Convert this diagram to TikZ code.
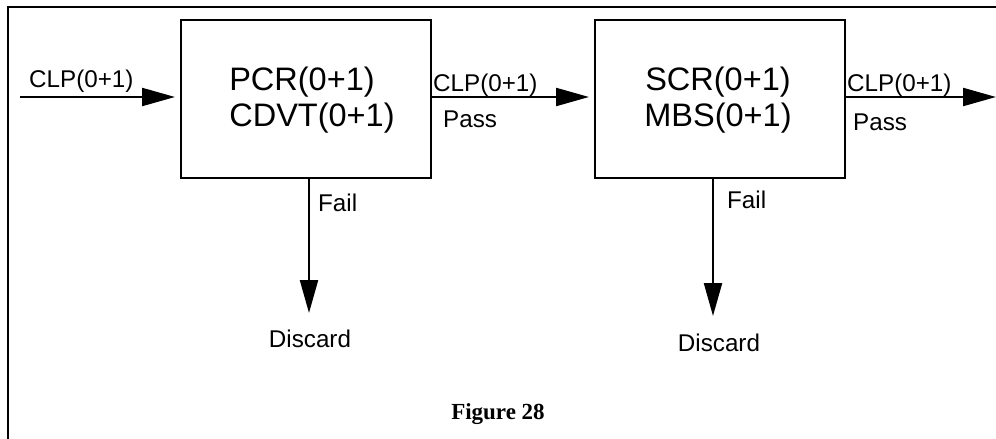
\documentclass[tikz,border=0pt]{standalone}
\usepackage{fontspec}
\setmainfont{Liberation Sans}
\newfontfamily\capfont{Liberation Serif}
\usetikzlibrary{arrows.meta}
\tikzset{
  x=1pt, y=-1pt,
  stage/.style={draw, line width=1.8pt, minimum width=250pt, minimum height=158pt,
    anchor=north west, inner sep=0pt},
  stagetext/.style={anchor=base, inner sep=0pt, font=\fontsize{32.5}{38}\selectfont},
  flow/.style={line width=2.2pt, shorten >=5pt, -{Triangle[length=33pt, width=18pt]}},
  lbl/.style={anchor=base west, inner sep=0pt, font=\fontsize{24.2}{28}\selectfont},
}
\begin{document}
\begin{tikzpicture}
\useasboundingbox (0,0) rectangle (996,439);
% frame (left and top edges)
\draw[line width=2.4pt] (8,439) -- (8,7) -- (996,7);

% stages
\node[stage] (s1) at (180,19) {};
\node[stage] (s2) at (594,19) {};
\node[stagetext] (s1a) at (302,90) {PCR(0+1)};
\node[stagetext] (s1b) at (312,126) {CDVT(0+1)};
\node[stagetext] (s2a) at (718,90) {SCR(0+1)};
\node[stagetext] (s2b) at (718,126) {MBS(0+1)};

% endpoints
\coordinate (in) at (20,97);
\coordinate (out) at (1001,97);
\node[lbl, anchor=base] (d1) at (310,347) {Discard};
\node[lbl, anchor=base] (d2) at (719,351) {Discard};

% flows
\draw[flow] (in) -- (s1.west |- in);
\draw[flow] (s1.east |- in) -- (s2.west |- in);
\draw[flow] (s2.east |- in) -- (out);
\draw[flow, shorten >=0pt] (s1.south -| 309,0) -- (309,313) coordinate (f1);
\draw[flow, shorten >=0pt] (s2.south -| 713,0) -- (713,316) coordinate (f2);

% labels
\node[lbl] (l1) at (29,87) {CLP(0+1)};
\node[lbl] (l2) at (433,91) {CLP(0+1)};
\node[lbl] (l3) at (847,91) {CLP(0+1)};
\node[lbl] (p1) at (443,127) {Pass};
\node[lbl] (p2) at (853,130) {Pass};
\node[lbl] (fa1) at (318,211) {Fail};
\node[lbl] (fa2) at (727,208) {Fail};

\node[anchor=base, inner sep=0pt, font=\capfont\bfseries\fontsize{23}{26}\selectfont] (cap) at (498,419) {Figure 28};
\end{tikzpicture}
\end{document}
